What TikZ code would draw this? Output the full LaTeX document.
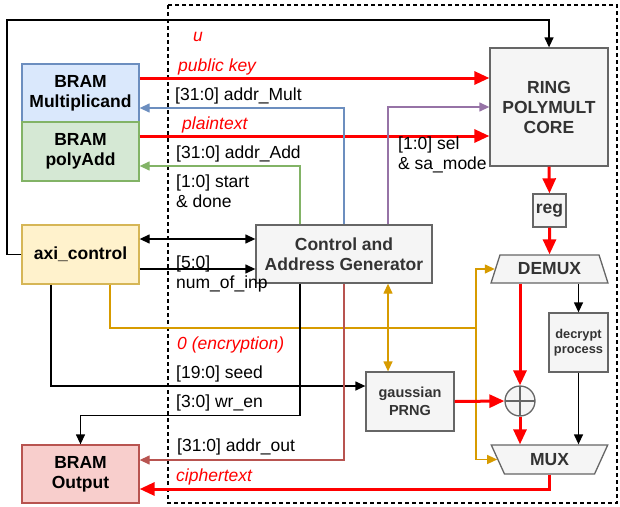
\documentclass[tikz,border=0pt]{standalone}
\usepackage{fontspec}
\setmainfont{Liberation Sans}
\usetikzlibrary{arrows.meta,shapes.geometric}
\definecolor{EncRed}{HTML}{FF0000}
\definecolor{EncBlueFill}{HTML}{DAE8FC}
\definecolor{EncBlueLine}{HTML}{6C8EBF}
\definecolor{EncGreenFill}{HTML}{D5E8D4}
\definecolor{EncGreenLine}{HTML}{82B366}
\definecolor{EncYellowFill}{HTML}{FFF2CC}
\definecolor{EncYellowLine}{HTML}{D6B656}
\definecolor{EncRoseFill}{HTML}{F8CECC}
\definecolor{EncRoseLine}{HTML}{B85450}
\definecolor{EncGrayFill}{HTML}{F5F5F5}
\definecolor{EncGrayLine}{HTML}{666666}
\definecolor{EncGrayText}{HTML}{333333}
\definecolor{EncPurple}{HTML}{9673A6}
\definecolor{EncOrange}{HTML}{D79B00}

\begin{document}
\begin{tikzpicture}[x=1pt,y=-1pt,
  box/.style={draw,line width=1.3pt,align=center,inner sep=0pt,font=\fontsize{17.5}{20}\selectfont\bfseries},
  graybox/.style={box,draw=EncGrayLine,fill=EncGrayFill,text=EncGrayText},
  wire/.style={line width=1.3pt,-{Triangle[length=10pt,width=9pt]}},
  bus/.style={line width=3pt,draw=EncRed,-{Triangle[length=15pt,width=13pt]}},
  lbl/.style={anchor=base west,inner sep=0pt,align=left,font=\fontsize{17.5}{20}\selectfont},
  redlbl/.style={lbl,text=EncRed,font=\fontsize{17.5}{20}\selectfont\itshape}]
\path[use as bounding box] (0,0) rectangle (620,506);
\draw[line width=1.3pt,dash pattern=on 4pt off 3pt] (168,5) rectangle (617,503);
\node[box,draw=EncBlueLine,fill=EncBlueFill,minimum width=117pt,minimum height=58pt] (mult) at (80.5,93) {BRAM\\Multiplicand};
\node[box,draw=EncGreenLine,fill=EncGreenFill,minimum width=117pt,minimum height=59pt] (add) at (80.5,151.5) {BRAM\\polyAdd};
\node[box,draw=EncYellowLine,fill=EncYellowFill,minimum width=117pt,minimum height=59pt] (axi) at (80.5,254.5) {axi\_control};
\node[box,draw=EncRoseLine,fill=EncRoseFill,minimum width=117pt,minimum height=58pt] (out) at (80.5,474) {BRAM\\Output};
\node[graybox,minimum width=118pt,minimum height=118pt] (ring) at (549,107) {RING\\POLYMULT\\CORE};
\node[graybox,minimum width=33pt,minimum height=33pt] (reg) at (549.5,210.5) {reg};
\node[graybox,trapezium,trapezium left angle=65,trapezium right angle=65,trapezium stretches=true,minimum width=117pt,minimum height=28pt] (demux) at (549.5,269) {DEMUX};
\node[graybox,minimum width=59pt,minimum height=59pt,font=\fontsize{12.8}{14.5}\selectfont\bfseries] (decrypt) at (578.5,342.5) {decrypt\\process};
\node[graybox,trapezium,trapezium left angle=115,trapezium right angle=115,trapezium stretches=true,minimum width=117pt,minimum height=29pt] (mux) at (549.5,459.5) {MUX};
\node[graybox,minimum width=88pt,minimum height=59pt,font=\fontsize{14.5}{17.5}\selectfont\bfseries] (prng) at (410,401.5) {gaussian\\PRNG};
\node[circle,draw=EncGrayLine,fill=EncGrayFill,line width=1.3pt,minimum size=30pt,inner sep=0pt,
  path picture={\draw[EncGrayLine,line width=1.3pt] (path picture bounding box.north) -- (path picture bounding box.south) (path picture bounding box.west) -- (path picture bounding box.east);}] (xor) at (520,401) {};
\node[graybox,minimum width=176pt,minimum height=58pt] (ctrl) at (344,254) {Control and\\Address Generator};
\coordinate (split) at (476,328);
\draw[wire] (axi.west) -| (7,20) -| (ring.north);
\draw[bus] ([yshift=15pt]mult.east) coordinate (pk) -- (pk -| ring.west);
\draw[bus] ([yshift=15.5pt]add.east) coordinate (pt) -- (pt -| ring.west);
\draw[wire,EncBlueLine] (ctrl.north) |- ([yshift=-15pt]mult.east);
\draw[wire,EncGreenLine] ([xshift=-44pt]ctrl.north) |- ([yshift=-14.5pt]add.east);
\draw[wire,EncPurple] ([xshift=44pt]ctrl.north) |- (ring.west);
\draw[wire,{Triangle[length=10pt,width=9pt]}-{Triangle[length=10pt,width=9pt]}] ([yshift=15.5pt]axi.east) coordinate (sd) -- (sd -| ctrl.west);
\draw[wire] ([yshift=-14.5pt]axi.east) coordinate (ni) -- (ni -| ctrl.west);
\draw[line width=1.3pt,EncOrange] ([xshift=29.5pt]axi.south) |- (split);
\draw[wire,EncOrange] (split) |- (demux.west);
\draw[wire,EncOrange] (split) |- (mux.west);
\draw[wire,EncOrange,{Triangle[length=10pt,width=9pt]}-{Triangle[length=10pt,width=9pt]}] ([xshift=44pt]ctrl.south) coordinate (cg) -- (cg |- prng.north);
\draw[wire] ([xshift=-29.5pt]axi.south) |- ([yshift=15.5pt]prng.west);
\draw[wire] ([xshift=-44pt]ctrl.south) -- ++(0,132) -| (out.north);
\draw[wire,EncRoseLine] (ctrl.south) |- ([yshift=14pt]out.east);
\draw[bus] (mux.south) |- ([yshift=-15pt]out.east);
\draw[bus] (ring.south) -- (reg.north);
\draw[bus] (reg.south) -- (demux.north);
\draw[bus] (demux.south -| xor.north) -- (xor.north);
\draw[bus] (xor.south) -- (xor.south |- mux.north);
\draw[bus] (prng.east) -- (xor.west);
\draw[wire] (demux.south -| decrypt.north) -- (decrypt.north);
\draw[wire] (decrypt.south) -- (decrypt.south |- mux.north);
\node[redlbl] (uLbl) at (193,41) {u};
\node[redlbl] (keyLbl) at (178,71) {public key};
\node[lbl] (multLbl) at (175,100) {[31:0] addr\_Mult};
\node[redlbl] (plainLbl) at (182,129) {plaintext};
\node[lbl] (addLbl) at (176,158) {[31:0] addr\_Add};
\node[lbl] (startLbl) at (176,207) {[1:0] start\\\& done};
\node[lbl] (selLbl) at (398,169) {[1:0] sel\\\& sa\_mode};
\node[lbl] (inpLbl) at (176,288) {[5:0]\\num\_of\_inp};
\node[redlbl] (encLbl) at (177,349) {0 (encryption)};
\node[lbl] (seedLbl) at (176,378) {[19:0] seed};
\node[lbl] (wrLbl) at (176,407) {[3:0] wr\_en};
\node[lbl] (outLbl) at (177,451) {[31:0] addr\_out};
\node[redlbl] (cipherLbl) at (176,481) {ciphertext};
\end{tikzpicture}
\end{document}
